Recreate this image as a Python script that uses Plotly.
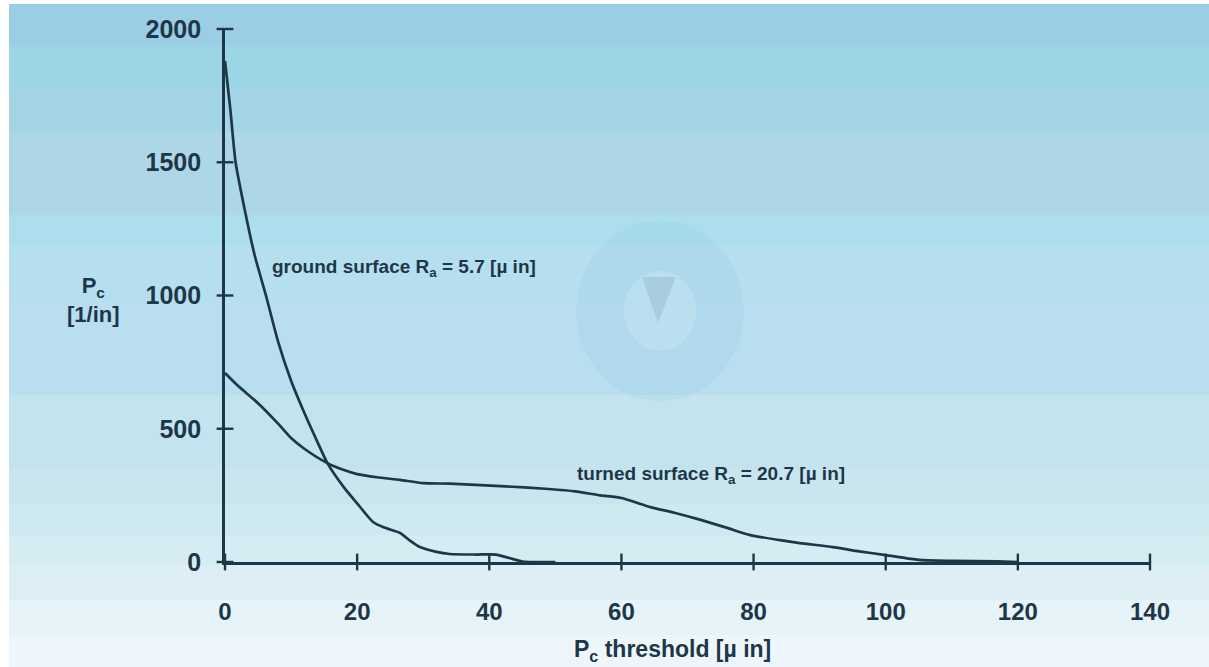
import plotly.graph_objects as go

# ---- data ----
ground_x = [0, 0.8, 1.6, 3, 4.5, 6.2, 8, 10, 12, 14, 15.5, 18, 20, 22.4, 24, 26.5, 28, 29.5, 32, 34, 38, 41, 43, 45, 50]
ground_y = [1880, 1700, 1500, 1320, 1150, 1000, 830, 680, 560, 450, 371, 280, 220, 150, 130, 109, 80, 56, 38, 30, 28, 28, 15, 2, 0]

turned_x = [0, 2, 5, 8, 10, 12, 15.5, 18, 20, 23, 26.5, 30, 34, 41.7, 49, 53, 56.8, 60, 64.4, 68, 72, 76, 79.5, 84, 87, 92, 96, 100, 105, 110, 117, 120]
turned_y = [709, 660, 596, 520, 465, 425, 371, 345, 330, 318, 308, 296, 294, 285, 274, 265, 250, 240, 206, 185, 158, 128, 101, 82, 71, 56, 40, 26, 8, 4, 2, 0]

x_ticks = [0, 20, 40, 60, 80, 100, 120, 140]
y_ticks = [0, 500, 1000, 1500, 2000]

INK = "#1D3749"
BOLD = "Liberation Sans, Arial, sans-serif"

# figure geometry (pixels)
W, H = 1209, 667
ML, MR, MT, MB = 225, 59, 29, 105
PW, PH = W - ML - MR, H - MT - MB


def px2paper_x(px):
    return (px - ML) / PW


def px2paper_y(py):
    return (H - MB - py) / PH


fig = go.Figure()

fig.add_trace(go.Scatter(x=ground_x, y=ground_y, mode="lines",
                         line=dict(color=INK, width=2.7, shape="spline", smoothing=0.6),
                         cliponaxis=False, showlegend=False, hoverinfo="skip"))
fig.add_trace(go.Scatter(x=turned_x, y=turned_y, mode="lines",
                         line=dict(color=INK, width=2.7, shape="spline", smoothing=0.6),
                         cliponaxis=False, showlegend=False, hoverinfo="skip"))

# crossing tick marks
fig.add_trace(go.Scatter(x=x_ticks, y=[0] * len(x_ticks), mode="markers",
                         marker=dict(symbol="line-ns", size=12, line=dict(color=INK, width=2.4)),
                         cliponaxis=False, showlegend=False, hoverinfo="skip"))
fig.add_trace(go.Scatter(x=[0] * len(y_ticks), y=y_ticks, mode="markers",
                         marker=dict(symbol="line-ew", size=12, line=dict(color=INK, width=2.4)),
                         cliponaxis=False, showlegend=False, hoverinfo="skip"))

# ---- background bands ----
bands = [
    (4, 45, "#9BCDE5"), (45, 88, "#9CD6E6"), (88, 132, "#A4D5E6"), (132, 215, "#ADD7E6"),
    (215, 245, "#ACDEEE"), (245, 300, "#B5DFEE"), (300, 395, "#B9DEEF"), (395, 470, "#C3E4EE"),
    (470, 505, "#C9E6EF"), (505, 535, "#CFE9F1"), (535, 565, "#D6ECF3"), (565, 600, "#DDEFF5"),
    (600, 635, "#E6F3F8"), (635, 668, "#EFF6FB"),
]
shapes = []
for top, bot, col in bands:
    shapes.append(dict(type="rect", xref="paper", yref="paper",
                       x0=px2paper_x(9), x1=px2paper_x(W + 1),
                       y0=px2paper_y(bot), y1=px2paper_y(top),
                       fillcolor=col, line=dict(width=0), layer="below"))

# watermark logo
cxp, cyp = px2paper_x(660), px2paper_y(311)
shapes.append(dict(type="circle", xref="paper", yref="paper", xsizemode="pixel", ysizemode="pixel",
                   xanchor=cxp, yanchor=cyp, x0=-84, x1=84, y0=-90, y1=90,
                   fillcolor="rgba(120,185,220,0.12)", line=dict(width=0), layer="below"))
shapes.append(dict(type="circle", xref="paper", yref="paper", xsizemode="pixel", ysizemode="pixel",
                   xanchor=cxp, yanchor=cyp, x0=-36, x1=36, y0=-40, y1=40,
                   fillcolor="rgba(215,238,248,0.30)", line=dict(width=0), layer="below"))
shapes.append(dict(type="path", xref="paper", yref="paper", xsizemode="pixel", ysizemode="pixel",
                   xanchor=cxp, yanchor=cyp, path="M -18,34 L 16,34 L -2,-12 Z",
                   fillcolor="rgba(110,150,170,0.25)", line=dict(width=0), layer="below"))

annotations = [
    dict(x=6.8, y=1103, xref="x", yref="y", xanchor="left", yanchor="middle",
         text="ground surface R<sub>a</sub> = 5.7 [µ in]", showarrow=False,
         font=dict(family=BOLD, size=19, color=INK, weight="bold")),
    dict(x=53, y=326, xref="x", yref="y", xanchor="left", yanchor="middle",
         text="turned surface R<sub>a</sub> = 20.7 [µ in]", showarrow=False,
         font=dict(family=BOLD, size=19, color=INK, weight="bold")),
    dict(x=px2paper_x(672), y=px2paper_y(650), xref="paper", yref="paper",
         xanchor="center", yanchor="middle",
         text="P<sub>c</sub> threshold [µ in]", showarrow=False,
         font=dict(family=BOLD, size=23, color=INK, weight="bold")),
    dict(x=px2paper_x(93), y=px2paper_y(300), xref="paper", yref="paper",
         xanchor="center", yanchor="middle", align="center",
         text="P<sub>c</sub><br>[1/in]", showarrow=False,
         font=dict(family=BOLD, size=22, color=INK, weight="bold")),
]

fig.update_layout(
    width=W, height=H,
    margin=dict(l=ML, r=MR, t=MT, b=MB, pad=0),
    paper_bgcolor="white", plot_bgcolor="rgba(0,0,0,0)",
    shapes=shapes, annotations=annotations, showlegend=False,
    xaxis=dict(range=[0, 140], tickvals=x_ticks, ticktext=[str(v) for v in x_ticks],
               showgrid=False, zeroline=False, showline=True, linecolor=INK, linewidth=2.6,
               ticks="", ticklabelstandoff=26,
               tickfont=dict(family=BOLD, size=24, color=INK, weight="bold")),
    yaxis=dict(range=[0, 2000], tickvals=y_ticks, ticktext=[str(v) for v in y_ticks],
               showgrid=False, zeroline=False, showline=True, linecolor=INK, linewidth=2.6,
               ticks="", ticklabelstandoff=16,
               tickfont=dict(family=BOLD, size=25, color=INK, weight="bold")),
)

fig.write_html("out.html", config={"displayModeBar": False},
               post_script="document.body.style.margin='0';document.body.style.padding='0';")
